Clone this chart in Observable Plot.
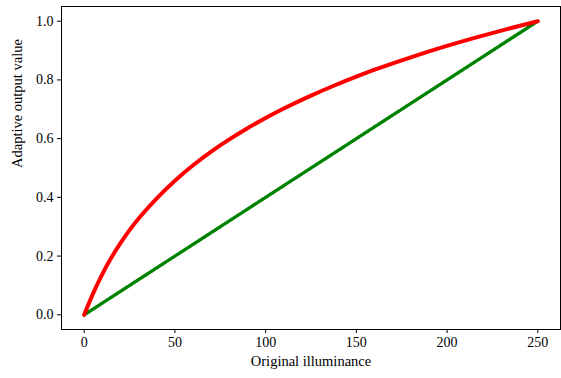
<!DOCTYPE html>
<html>
<head>
<meta charset="utf-8">
<script src="https://cdn.jsdelivr.net/npm/d3@7"></script>
<script src="https://cdn.jsdelivr.net/npm/@observablehq/plot@0.6"></script>
<style>
  html, body { margin: 0; padding: 0; background: #fff; }
  svg, svg text { font-family: "Liberation Serif", "DejaVu Serif", serif !important; }
</style>
</head>
<body>
<div id="chart"></div>
<script>
// Red adaptive curve
const illum = [0, 5, 10, 15, 20, 25, 30, 40, 50, 60, 70, 80, 90, 100, 110, 125, 140, 150, 160, 175, 190, 200, 215, 225, 240, 250];
const adaptive = [0, 0.076, 0.140, 0.196, 0.245, 0.289, 0.329, 0.398, 0.458, 0.510, 0.557, 0.598, 0.636, 0.671, 0.703, 0.747, 0.787, 0.811, 0.835, 0.867, 0.897, 0.916, 0.943, 0.960, 0.984, 1.0];
// Green linear reference
const linX = [0, 250];
const linY = [0, 1];

const xTicks = [0, 50, 100, 150, 200, 250];
const yTicks = [0, 0.2, 0.4, 0.6, 0.8, 1.0];

const curve = illum.map((x, i) => ({x, y: adaptive[i]}));
const lin = linX.map((x, i) => ({x, y: linY[i]}));
const FONT = "Liberation Serif";

const chart = Plot.plot({
  width: 561,
  height: 378,
  marginLeft: 61,
  marginRight: 1,
  marginTop: 6,
  marginBottom: 49,
  style: {fontFamily: FONT, fontSize: "14px", color: "black", background: "white"},
  x: {domain: [-12.5, 262.5]},
  y: {domain: [-0.05, 1.05]},
  marks: [
    Plot.axisX({ticks: xTicks, tickSize: 4, tickPadding: 4, label: null, stroke: "black", fontFamily: FONT, fontSize: 14}),
    Plot.axisY({ticks: yTicks, tickSize: 4, tickPadding: 4, tickFormat: d3.format(".1f"), label: null, stroke: "black", fontFamily: FONT, fontSize: 14}),
    Plot.line(lin, {x: "x", y: "y", stroke: "#55cf55", strokeWidth: 3.2}),
    Plot.line(lin, {x: "x", y: "y", stroke: "#008000", strokeWidth: 3.2, strokeDasharray: "1.2,1.8"}),
    Plot.line(curve, {x: "x", y: "y", stroke: "red", strokeWidth: 4, curve: "basis"}),
    Plot.frame({stroke: "black", strokeWidth: 1}),
    Plot.text(["Original illuminance"], {frameAnchor: "bottom", dy: 36, fill: "black", fontSize: 14.5, fontFamily: FONT}),
    Plot.text(["Adaptive output value"], {frameAnchor: "left", dx: -44, rotate: -90, fill: "black", fontSize: 14.5, fontFamily: FONT})
  ]
});
document.getElementById("chart").appendChild(chart);
</script>
</body>
</html>
